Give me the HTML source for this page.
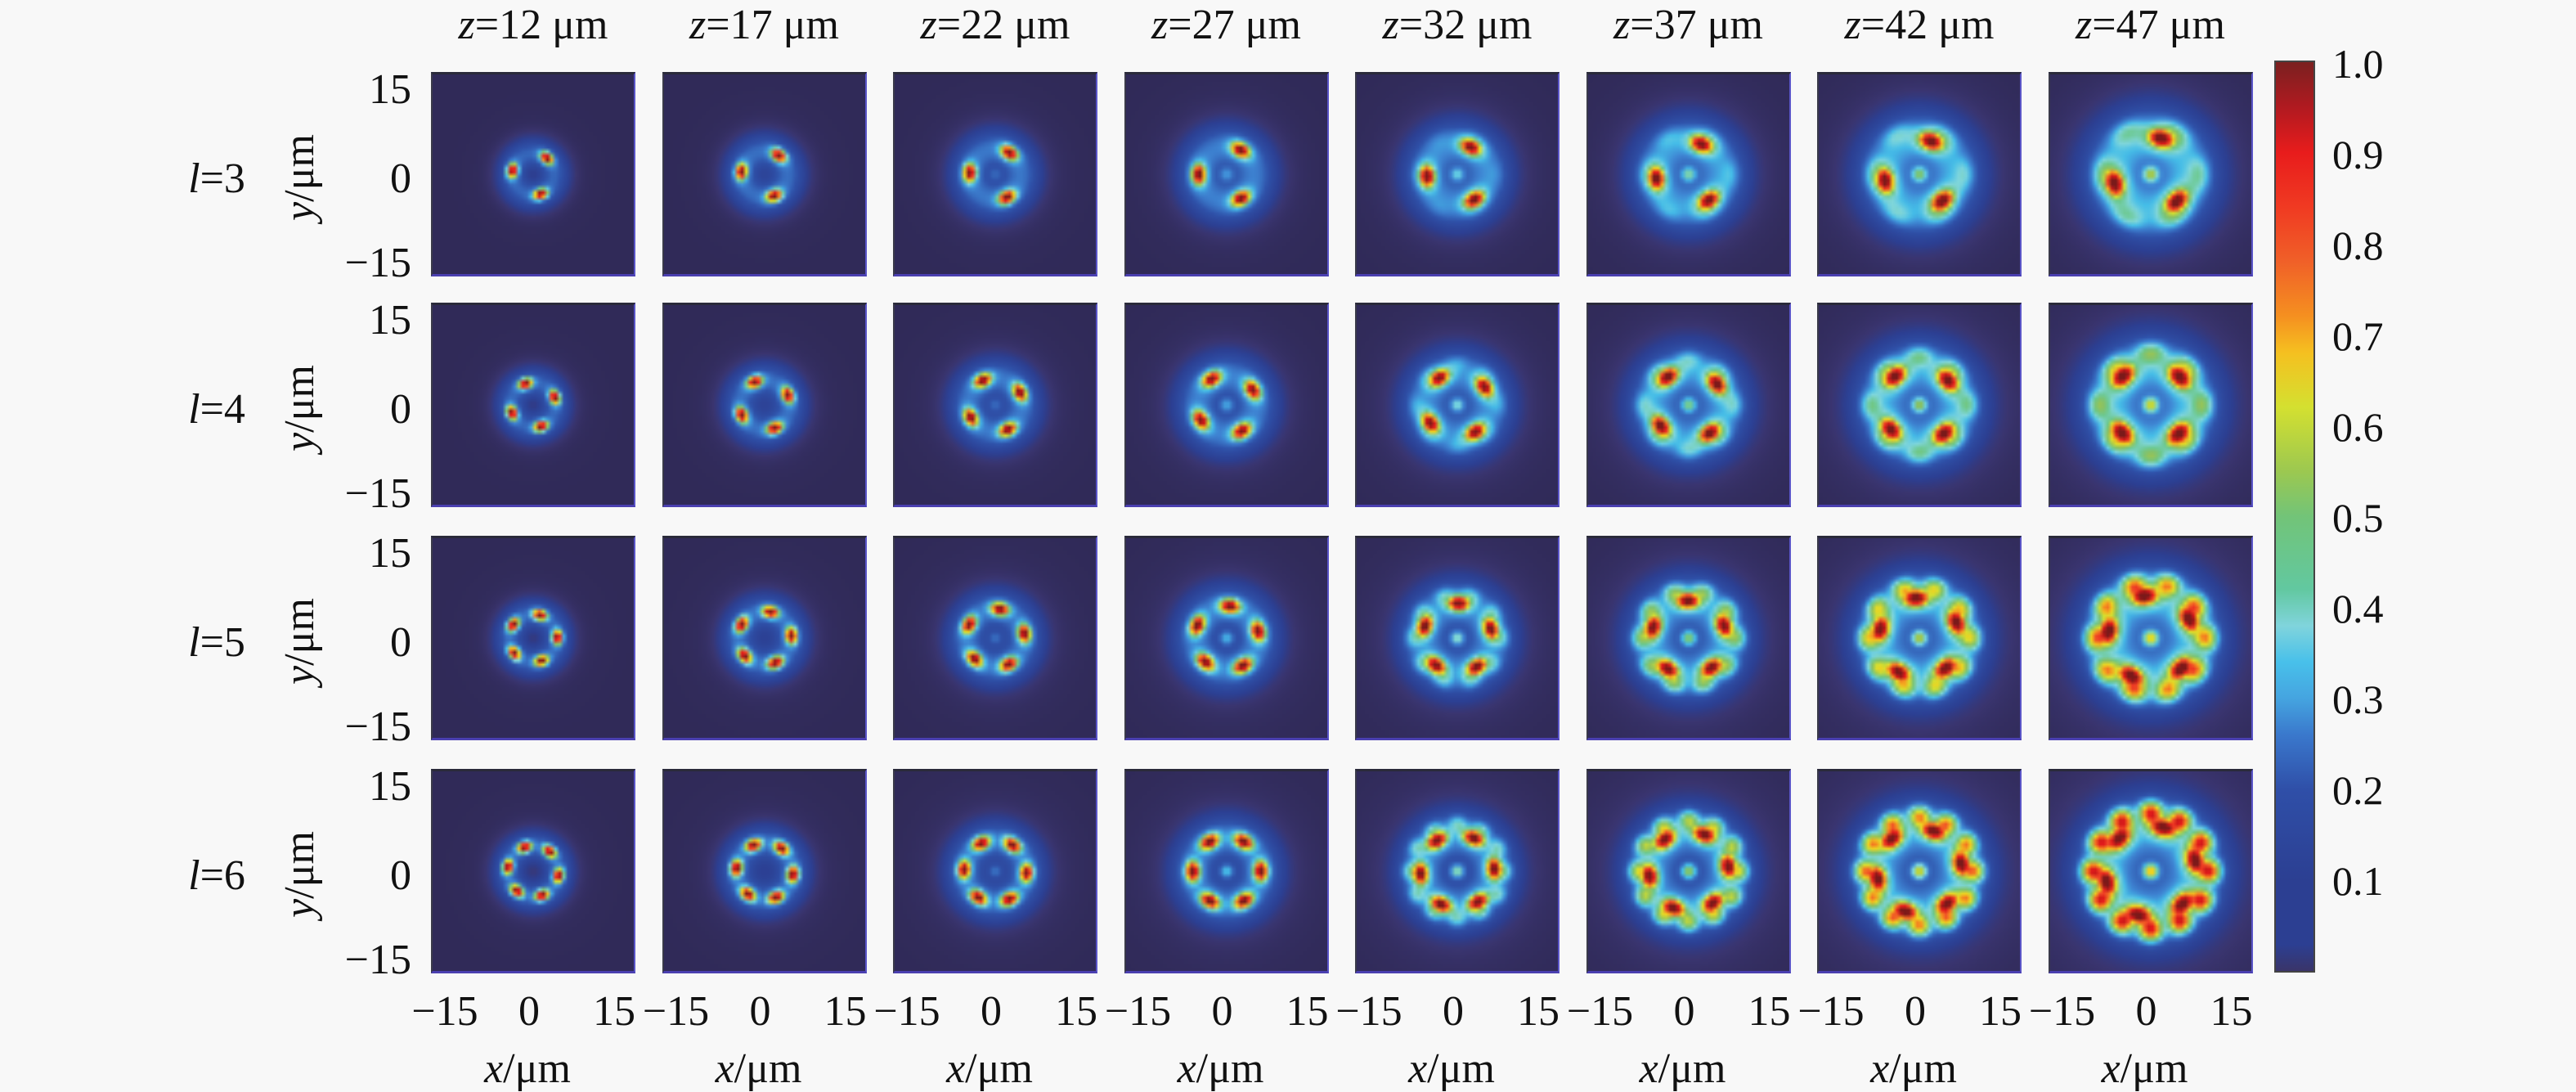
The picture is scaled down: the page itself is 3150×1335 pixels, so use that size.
<!DOCTYPE html>
<html><head><meta charset="utf-8"><style>
html,body{margin:0;padding:0;background:#f8f8f8;width:3150px;height:1335px;overflow:hidden;position:relative}
canvas{position:absolute;width:250px;height:250px}
.f{position:absolute;width:250px;height:250px;border-top:3px solid #2a2a3a;border-left:2px solid #3a3a4a;border-right:2px solid #5a55c8;border-bottom:3px solid #4a3fb0;box-sizing:border-box}
svg{position:absolute;left:0;top:0}
text{font-family:"Liberation Serif",serif;fill:#111}
</style></head><body>
<div id="panels"></div>
<svg width="3150" height="1335" id="s">
<defs><linearGradient id="cb" x1="0" y1="1" x2="0" y2="0">
<stop offset="0" stop-color="#3a3468"/><stop offset="0.03" stop-color="#2c3f92"/><stop offset="0.1" stop-color="#2c3f92"/>
<stop offset="0.2" stop-color="#2f4fa8"/><stop offset="0.26" stop-color="#3a78cc"/><stop offset="0.3" stop-color="#45a4e0"/>
<stop offset="0.34" stop-color="#48c0ea"/><stop offset="0.38" stop-color="#80d4dc"/><stop offset="0.42" stop-color="#62c8a0"/>
<stop offset="0.5" stop-color="#72c478"/><stop offset="0.55" stop-color="#9cc850"/><stop offset="0.62" stop-color="#d4e030"/>
<stop offset="0.68" stop-color="#f5c020"/><stop offset="0.72" stop-color="#f59020"/><stop offset="0.78" stop-color="#f06028"/>
<stop offset="0.84" stop-color="#f03a22"/><stop offset="0.9" stop-color="#e81c1c"/><stop offset="0.95" stop-color="#b01a20"/><stop offset="1" stop-color="#7a2020"/>
</linearGradient></defs>
<rect x="2782" y="75" width="48" height="1113" fill="url(#cb)" stroke="#444" stroke-width="2"/>
<g font-size="50">
<text x="2852" y="95">1.0</text><text x="2852" y="206">0.9</text><text x="2852" y="317">0.8</text>
<text x="2852" y="428">0.7</text><text x="2852" y="539">0.6</text><text x="2852" y="650">0.5</text>
<text x="2852" y="761">0.4</text><text x="2852" y="872">0.3</text><text x="2852" y="983">0.2</text><text x="2852" y="1094">0.1</text>
</g>
<g id="txt" font-size="52"></g>
</svg>
<script>
const lefts=[],tops=[88,370,655,940];
for(let i=0;i<8;i++)lefts.push(527+282.5*i);
const zs=[12,17,22,27,32,37,42,47];
const stops=[[0,[48,42,88]],[0.05,[58,53,112]],[0.1,[44,63,146]],[0.2,[47,82,170]],[0.28,[63,134,212]],[0.33,[69,189,232]],[0.38,[128,214,220]],[0.45,[108,200,140]],[0.52,[140,192,96]],[0.6,[212,224,48]],[0.66,[240,208,32]],[0.72,[245,144,32]],[0.8,[240,74,40]],[0.88,[232,28,28]],[0.95,[176,24,24]],[1,[122,26,26]]];
function cmap(v){v=Math.max(0,Math.min(1,v));for(let i=1;i<stops.length;i++){if(v<=stops[i][0]){const a=stops[i-1],b=stops[i],t=(v-a[0])/(b[0]-a[0]);return a[1].map((c,j)=>c+(b[1][j]-c)*t);}}return stops[stops.length-1][1];}
const P=document.getElementById('panels');
const N=50;
for(let r=0;r<4;r++){const l=r+3;for(let k=0;k<8;k++){
 const c=document.createElement('canvas');c.width=N;c.height=N;c.style.left=lefts[k]+'px';c.style.top=tops[r]+'px';
 const ctx=c.getContext('2d');const im=ctx.createImageData(N,N);
 const R=(3.5+0.25*(l-3))*(1+0.11*k), s=0.8+0.11*k, ph=-Math.PI/2+0.35+0.06*k;
 const ringF=[0.15,0.25,0.45,0.6][r]*Math.max(0,(k-3)/4);
 const cen=Math.min(0.9,0.08*k*(0.4+0.1*l))*(k>=2?1:0.3);
 for(let py=0;py<N;py++)for(let px=0;px<N;px++){
  const x=(px+0.5)/N*34-17,y=17-(py+0.5)/N*34;const rr=Math.hypot(x,y),th=Math.atan2(y,x);
  let v=0;
  for(let j=0;j<l;j++){const a=ph+2*Math.PI*j/l;const lx=R*Math.cos(a),ly=R*Math.sin(a);
   const dx=x-lx,dy=y-ly;const dr=dx*Math.cos(a)+dy*Math.sin(a),dt=-dx*Math.sin(a)+dy*Math.cos(a);
   v=Math.max(v,0.97*Math.exp(-(dr*dr)/(2*s*s*0.7)-(dt*dt)/(2*s*s*1.5)));}
  let b=0.2*Math.exp(-((rr-R)**2)/(2*(2.4*s)**2));
  b+=(0.04+0.016*k)*Math.exp(-(rr*rr)/(2*(R*1.5)**2));
  b+=ringF*Math.exp(-((rr-1.3*R)**2)/(2*(0.8*s)**2))*(0.6+0.4*Math.cos(2*l*th));
  b+=cen*Math.exp(-rr*rr/(2*0.8*0.8));
  v=Math.max(v,b)+0.35*Math.min(v,b);
  const col=cmap(Math.min(1,v));const o=(py*N+px)*4;im.data[o]=col[0];im.data[o+1]=col[1];im.data[o+2]=col[2];im.data[o+3]=255;}
 ctx.putImageData(im,0,0);P.appendChild(c);
 const f=document.createElement('div');f.className='f';f.style.left=lefts[k]+'px';f.style.top=tops[r]+'px';P.appendChild(f);
}}
const g=document.getElementById('txt');let h='';
zs.forEach((z,i)=>{h+=`<text x="${lefts[i]+125}" y="47" text-anchor="middle"><tspan font-style="italic">z</tspan>=${z} μm</text>`;
 h+=`<text x="${lefts[i]+17}" y="1253" text-anchor="middle">−15</text><text x="${lefts[i]+120}" y="1253" text-anchor="middle">0</text><text x="${lefts[i]+224}" y="1253" text-anchor="middle">15</text>`;
 h+=`<text x="${lefts[i]+118}" y="1323" text-anchor="middle"><tspan font-style="italic">x</tspan>/μm</text>`;});
tops.forEach((t,r)=>{h+=`<text x="503" y="${t+38}" text-anchor="end">15</text><text x="503" y="${t+147}" text-anchor="end">0</text><text x="503" y="${t+250}" text-anchor="end">−15</text>`;
 h+=`<text x="0" y="0" text-anchor="middle" transform="translate(383,${t+129}) rotate(-90)"><tspan font-style="italic">y</tspan>/μm</text>`;
 h+=`<text x="265" y="${t+147}" text-anchor="middle"><tspan font-style="italic">l</tspan>=${r+3}</text>`;});
g.innerHTML=h;
</script>
</body></html>
